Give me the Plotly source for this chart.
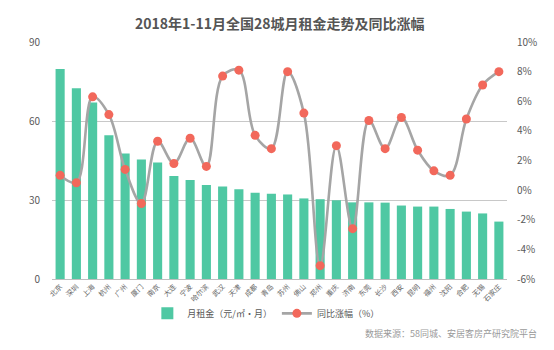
import plotly.graph_objects as go

# 28 cities, Jan–Nov 2018 average monthly rent and year-on-year change
cities = ["北京", "深圳", "上海", "杭州", "广州", "厦门", "南京", "大连", "宁波", "哈尔滨",
          "武汉", "天津", "成都", "青岛", "苏州", "佛山", "郑州", "重庆", "济南", "东莞",
          "长沙", "西安", "昆明", "福州", "沈阳", "合肥", "无锡", "石家庄"]
rent = [79.7, 72.4, 67.0, 54.6, 47.7, 45.4, 44.2, 39.1, 37.6, 35.7,
        35.1, 34.1, 32.8, 32.4, 32.1, 30.6, 30.3, 29.9, 29.1, 29.1,
        29.0, 27.9, 27.5, 27.5, 26.6, 25.6, 24.9, 21.8]
yoy = [1.0, 0.5, 6.3, 5.1, 1.4, -0.9, 3.3, 1.8, 3.5, 1.6,
       7.7, 8.1, 3.7, 2.8, 8.0, 5.2, -5.1, 3.0, -2.6, 4.7,
       2.8, 4.9, 2.7, 1.3, 1.0, 4.8, 7.1, 8.0]

left_ticks = [0, 30, 60, 90]
right_ticks = [-6, -4, -2, 0, 2, 4, 6, 8, 10]

FONT = "Noto Sans CJK SC, Noto Sans, sans-serif"
TXT = "#595959"
CLEAR = "rgba(0,0,0,0)"

fig = go.Figure()
fig.add_trace(go.Bar(
    x=cities, y=rent, name="月租金（元/㎡·月）",
    marker=dict(color="#4fc8a3", line=dict(width=0)),
))
fig.add_trace(go.Scatter(
    x=cities, y=yoy, name="同比涨幅（%）", yaxis="y2",
    mode="lines+markers",
    line=dict(color="#a5a5a5", width=2.6, shape="spline", smoothing=1.0),
    marker=dict(color="#f2685b", size=9, line=dict(width=0)),
))

fig.update_layout(
    width=554, height=350,
    margin=dict(l=52, r=47, t=42, b=71),
    paper_bgcolor="white", plot_bgcolor="white",
    font=dict(family=FONT, color=TXT, size=10),
    title=dict(text="<b>2018年1-11月全国28城月租金走势及同比涨幅</b>",
               x=0.505, xanchor="center", y=0.93, yanchor="middle",
               font=dict(size=14, color="#555555", family=FONT)),
    bargap=0.44,
    showlegend=True,
    legend=dict(orientation="h", x=0.47, xanchor="center", y=-0.145, yanchor="middle",
                font=dict(size=9, color=TXT), itemwidth=30,
                bgcolor=CLEAR),
    xaxis=dict(type="category", range=[-0.5, len(cities) - 0.5],
               tickangle=-45, tickfont=dict(size=7, color="#666666"),
               showline=True, linecolor="#bfbfbf", linewidth=1,
               ticks="", showgrid=False, automargin=False),
    yaxis=dict(range=[0, 90], tickvals=left_ticks, showgrid=True,
               gridcolor="#c8c8c8", gridwidth=1, zeroline=False,
               tickfont=dict(size=10, color=TXT),
               ticks="outside", ticklen=9, tickcolor=CLEAR, automargin=False),
    yaxis2=dict(range=[-6, 10], tickvals=right_ticks,
                ticktext=[f"{v}%" for v in right_ticks],
                overlaying="y", side="right", showgrid=False, zeroline=False,
                tickfont=dict(size=10, color=TXT),
                ticks="outside", ticklen=7, tickcolor=CLEAR, automargin=False),
    annotations=[dict(text="数据来源：58同城、安居客房产研究院平台", xref="paper", yref="paper",
                      x=1.07, xanchor="right", y=-0.23, yanchor="middle",
                      showarrow=False, font=dict(size=9, color="#9a9a9a"))],
)

fig.write_html("out.html")
